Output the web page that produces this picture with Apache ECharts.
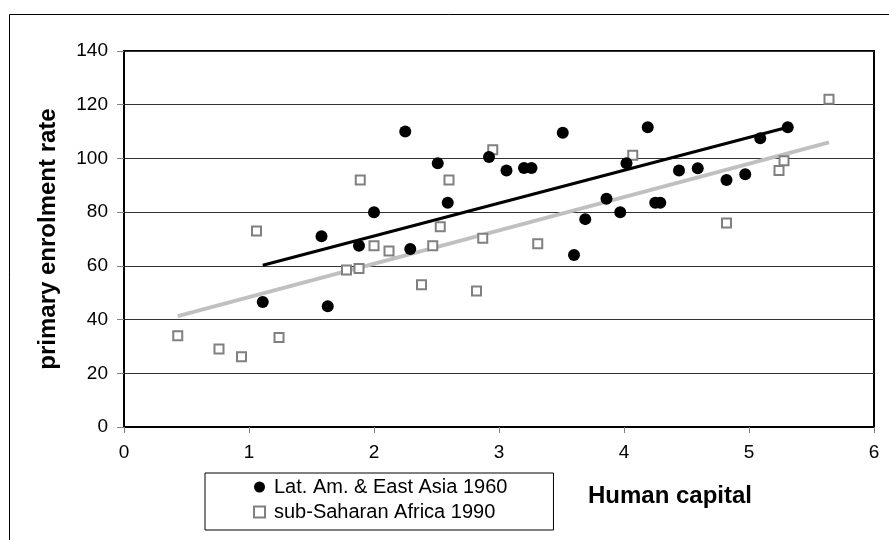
<!DOCTYPE html>
<html>
<head>
<meta charset="utf-8">
<script src="https://cdn.jsdelivr.net/npm/echarts@6/dist/echarts.min.js"></script>
<style>
html,body{margin:0;padding:0;background:#fff;}
#chart{width:889px;height:540px;}
</style>
</head>
<body>
<div id="chart"></div>
<script>
// Lat. Am. & East Asia 1960 : [human capital, primary enrolment rate]
var latAmX = [1.11, 1.58, 1.63, 1.88, 2.00, 2.25, 2.29, 2.51, 2.59, 2.92, 3.06, 3.20, 3.26, 3.51, 3.60, 3.69, 3.86, 3.97, 4.02, 4.19, 4.25, 4.29, 4.44, 4.59, 4.82, 4.97, 5.09, 5.31];
var latAmY = [46.5, 71.0, 45.0, 67.5, 80.0, 110.0, 66.3, 98.2, 83.5, 100.5, 95.5, 96.4, 96.4, 109.6, 64.0, 77.4, 85.0, 80.0, 98.2, 111.6, 83.5, 83.5, 95.5, 96.3, 92.0, 94.1, 107.5, 111.6];
// sub-Saharan Africa 1990
var ssaX = [0.43, 0.76, 0.94, 1.06, 1.24, 1.78, 1.88, 1.89, 2.00, 2.12, 2.38, 2.47, 2.53, 2.60, 2.82, 2.87, 2.95, 3.31, 4.07, 4.82, 5.24, 5.28, 5.64];
var ssaY = [34.0, 29.0, 26.2, 73.0, 33.3, 58.5, 59.0, 92.0, 67.5, 65.5, 53.0, 67.5, 74.6, 92.0, 50.6, 70.3, 103.2, 68.2, 101.2, 76.0, 95.5, 99.1, 122.0];
// trend line end points
var latAmTrendX = [1.11, 5.31];
var latAmTrendY = [60.2, 111.6];
var ssaTrendX = [0.43, 5.64];
var ssaTrendY = [41.3, 106.0];
var xTicks = [0, 1, 2, 3, 4, 5, 6];
var yTicks = [0, 20, 40, 60, 80, 100, 120, 140];

function zip(a, b) { return a.map(function (v, i) { return [v, b[i]]; }); }

var FONT = 'Liberation Sans, Arial, sans-serif';
var chart = echarts.init(document.getElementById('chart'));
chart.setOption({
  animation: false,
  backgroundColor: '#fff',
  textStyle: { fontFamily: FONT },
  grid: { left: 124, top: 51, right: 15, bottom: 113, show: true, borderColor: '#000', borderWidth: 2, backgroundColor: 'transparent' },
  xAxis: {
    type: 'value', min: xTicks[0], max: xTicks[xTicks.length - 1], interval: 1,
    axisLine: { show: true, onZero: false, lineStyle: { color: '#000', width: 2 } },
    axisTick: { show: true, inside: false, length: 6, lineStyle: { color: '#808080', width: 1 } },
    axisLabel: { color: '#000', fontSize: 19, fontFamily: FONT, margin: 16 },
    splitLine: { show: false }
  },
  yAxis: {
    type: 'value', min: yTicks[0], max: yTicks[yTicks.length - 1], interval: 20,
    name: 'primary enrolment rate', nameLocation: 'middle', nameGap: 64, nameRotate: 90,
    nameTextStyle: { color: '#000', fontSize: 24, fontWeight: 'bold', fontFamily: FONT },
    axisLine: { show: true, lineStyle: { color: '#000', width: 2 } },
    axisTick: { show: true, inside: false, length: 7, lineStyle: { color: '#808080', width: 1 } },
    axisLabel: { color: '#000', fontSize: 19, fontFamily: FONT, margin: 16 },
    splitLine: { show: true, lineStyle: { color: '#333', width: 1 } }
  },
  legend: {
    left: 205, top: 473, orient: 'vertical',
    data: ['Lat. Am. & East Asia 1960', 'sub-Saharan Africa 1990'],
    borderColor: '#000', borderWidth: 1, backgroundColor: '#fff',
    padding: [4, 46, 8, 48], itemGap: 5, itemWidth: 11, itemHeight: 11,
    textStyle: { color: '#000', fontSize: 20, fontFamily: FONT, padding: [0, 0, 0, 4] }
  },
  graphic: [
    { type: 'rect', shape: { x: 9.5, y: 14.5, width: 1000, height: 1000 }, style: { fill: 'none', stroke: '#000', lineWidth: 1 }, z: -10, silent: true },
    { type: 'text', left: 588, top: 484, style: { text: 'Human capital', fill: '#000', font: 'bold 24px ' + FONT } }
  ],
  series: [
    { name: 'trend1', type: 'line', data: zip(latAmTrendX, latAmTrendY), showSymbol: false, symbol: 'none', lineStyle: { color: '#000', width: 3 }, z: 1, silent: true },
    { name: 'trend2', type: 'line', data: zip(ssaTrendX, ssaTrendY), showSymbol: false, symbol: 'none', lineStyle: { color: '#c0c0c0', width: 4 }, z: 1, silent: true },
    { name: 'Lat. Am. & East Asia 1960', type: 'scatter', data: zip(latAmX, latAmY), symbol: 'circle', symbolSize: 12, itemStyle: { color: '#000', opacity: 1 }, z: 3 },
    { name: 'sub-Saharan Africa 1990', type: 'scatter', data: zip(ssaX, ssaY), symbol: 'rect', symbolSize: 9, itemStyle: { color: '#fff', borderColor: '#808080', borderWidth: 2, opacity: 1 }, z: 2 }
  ]
});
</script>
</body>
</html>
